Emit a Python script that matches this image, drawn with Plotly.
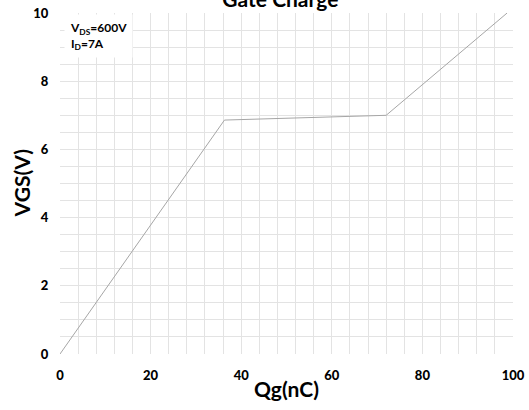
import plotly.graph_objects as go

qg = [0, 36.3, 72.0, 98.7]
vgs = [0, 6.86, 7.0, 10]
x_ticks = [0, 20, 40, 60, 80, 100]
y_ticks = [0, 2, 4, 6, 8, 10]

FONT = "Lato"
GRID = "#e3e3e3"

fig = go.Figure()
fig.add_trace(go.Scatter(x=qg, y=vgs, mode="lines",
                         line=dict(color="#a6a6a6", width=1), showlegend=False))

fig.update_layout(
    width=529, height=410,
    margin=dict(l=60, r=16, t=13, b=56),
    paper_bgcolor="white", plot_bgcolor="white",
    font=dict(family=FONT, color="black"),
    title=dict(text="<b>Gate Charge</b>", x=0.53, xanchor="center",
               y=1.0, yref="container", yanchor="middle",
               font=dict(size=21, family=FONT)),
    xaxis=dict(range=[0, 100], tickvals=x_ticks, showgrid=True, gridcolor=GRID,
               minor=dict(dtick=4, showgrid=True, gridcolor=GRID),
               zeroline=False, showline=False,
               ticks="outside", ticklen=9, tickcolor="rgba(0,0,0,0)",
               automargin=False,
               tickfont=dict(size=13, family=FONT + " Black", color="black"),
               title=dict(text="<b>Qg(nC)</b>", font=dict(size=21), standoff=0)),
    yaxis=dict(range=[0, 10], tickvals=y_ticks, showgrid=True, gridcolor=GRID,
               minor=dict(dtick=0.5, showgrid=True, gridcolor=GRID),
               zeroline=False, showline=False,
               ticks="outside", ticklen=8, tickcolor="rgba(0,0,0,0)",
               automargin=False,
               tickfont=dict(size=13, family=FONT + " Black", color="black")),
)

fig.add_annotation(
    text="<b>VGS(V)</b>", textangle=-90,
    xref="paper", yref="paper", x=-0.084, y=0.5, xanchor="center", yanchor="middle",
    showarrow=False, font=dict(size=21, family=FONT),
)

fig.add_annotation(
    text="<b>V<sub>DS</sub>=600V<br>I<sub>D</sub>=7A</b>",
    xref="paper", yref="paper", x=0.008, y=0.997, xanchor="left", yanchor="top",
    showarrow=False, align="left", bgcolor="white", borderpad=5,
    font=dict(size=12, family=FONT),
)

fig.write_html("out.html")
